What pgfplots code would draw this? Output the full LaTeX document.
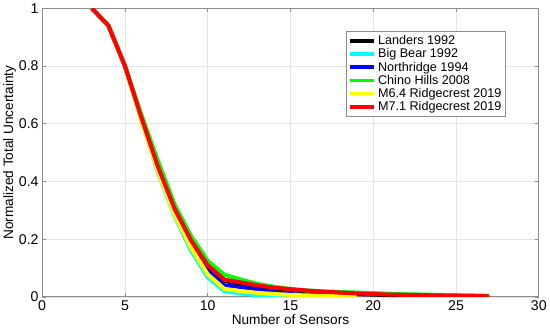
\documentclass[border=0pt]{standalone}
\usepackage{pgfplots}
\pgfplotsset{compat=1.18}
\usepackage{fontspec}
\setmainfont{Liberation Sans}
\definecolor{gridc}{gray}{0.9}
\definecolor{axc}{gray}{0.55}
\definecolor{mcyan}{rgb}{0,1,1}
\definecolor{mblue}{rgb}{0,0,1}
\definecolor{mgreen}{rgb}{0,1,0}
\definecolor{myellow}{rgb}{1,1,0}
\definecolor{mred}{rgb}{1,0,0}
\definecolor{mblack}{rgb}{0,0,0}
\begin{document}
\begin{tikzpicture}
\begin{axis}[
  scale only axis, width=492pt, height=286pt,
  xmin=0, xmax=30, ymin=0, ymax=1,
  xtick={0,5,...,30}, ytick={0,0.2,...,1},
  yticklabels={0,0.2,0.4,0.6,0.8,1},
  /pgf/number format/assume math mode=true,
  grid=major, major grid style={gridc, line width=0.6pt},
  axis line style={axc, line width=0.8pt},
  tick style={axc, line width=0.6pt}, tick align=inside,
  major tick length=4pt,
  tick label style={font=\fontsize{14}{16}\selectfont, black},
  xlabel={Number of Sensors}, ylabel={Normalized Total Uncertainty},
  label style={font=\fontsize{13.5}{15}\selectfont},
  xlabel style={yshift=3pt}, ylabel style={yshift=-4pt},
  legend style={at={(0.612,0.92)}, anchor=north west, draw=axc, fill=white,
    font=\fontsize{12.5}{13}\selectfont, row sep=-1.5pt, inner sep=2pt},
  legend cell align=left,
  legend image code/.code={\draw[#1, line width=3.5pt] (0pt,0pt) -- (24pt,0pt);},
  every axis plot/.append style={line width=4pt, line join=round},
]
\addplot[mblack] coordinates {(3,1) (4,0.94) (5,0.80) (6,0.62) (7,0.45) (8,0.305) (9,0.19) (10,0.105) (11,0.055) (12,0.046) (13,0.036) (14,0.029) (15,0.024) (16,0.019) (17,0.015) (18,0.012) (19,0.01) (20,0.008) (21,0.006) (22,0.005) (23,0.004) (24,0.003) (25,0.002) (26,0.0015) (27,0.001)};
\addlegendentry{Landers 1992}
\addplot[mcyan] coordinates {(3,1) (4,0.94) (5,0.80) (6,0.61) (7,0.43) (8,0.28) (9,0.16) (10,0.068) (11,0.02) (12,0.012) (13,0.006) (14,0.003) (15,0.001) (16,0.0005)};
\addlegendentry{Big Bear 1992}
\addplot[mblue] coordinates {(3,1) (4,0.94) (5,0.80) (6,0.62) (7,0.44) (8,0.295) (9,0.18) (10,0.092) (11,0.04) (12,0.034) (13,0.025) (14,0.016) (15,0.01) (16,0.006) (17,0.003) (18,0.001)};
\addlegendentry{Northridge 1994}
\addplot[mgreen] coordinates {(3,1) (4,0.94) (5,0.80) (6,0.63) (7,0.47) (8,0.32) (9,0.21) (10,0.125) (11,0.077) (12,0.06) (13,0.045) (14,0.035) (15,0.027) (16,0.022) (17,0.019) (18,0.017) (19,0.015) (20,0.013) (21,0.011) (22,0.009) (23,0.008) (24,0.007) (25,0.006) (26,0.005) (27,0.004)};
\addlegendentry{Chino Hills 2008}
\addplot[myellow] coordinates {(3,1) (4,0.94) (5,0.80) (6,0.61) (7,0.435) (8,0.285) (9,0.17) (10,0.078) (11,0.028) (12,0.02) (13,0.014) (14,0.01) (15,0.007) (16,0.005) (17,0.003) (18,0.002) (19,0.001)};
\addlegendentry{M6.4 Ridgecrest 2019}
\addplot[mred] coordinates {(3,1) (4,0.94) (5,0.80) (6,0.62) (7,0.45) (8,0.305) (9,0.195) (10,0.11) (11,0.06) (12,0.05) (13,0.04) (14,0.032) (15,0.027) (16,0.022) (17,0.018) (18,0.015) (19,0.012) (20,0.01) (21,0.008) (22,0.007) (23,0.006) (24,0.005) (25,0.004) (26,0.003) (27,0.002)};
\addlegendentry{M7.1 Ridgecrest 2019}
\end{axis}
\end{tikzpicture}
\end{document}
